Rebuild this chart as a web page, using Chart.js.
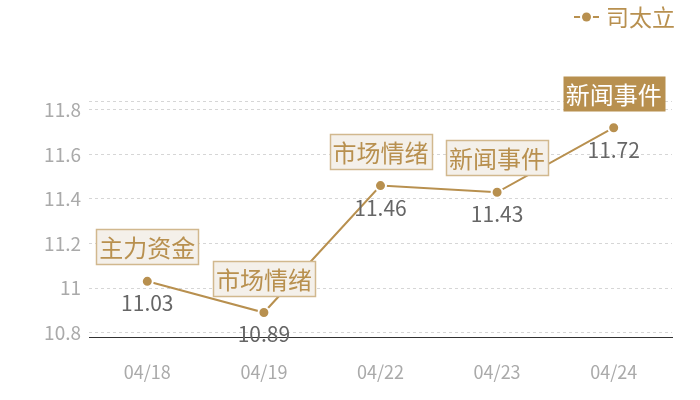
<!DOCTYPE html>
<html lang="zh">
<head>
  <meta charset="UTF-8" />
  <title>司太立</title>
  <script src="https://cdn.jsdelivr.net/npm/chart.js"></script>
  <style>
    html, body { margin: 0; padding: 0; background: #fff; }
    #wrap { width: 700px; height: 400px; }
  </style>
</head>
<body>
  <div id="wrap"><canvas id="grafico"></canvas></div>

  <script>
    // datos
    const fechas = ['04/18', '04/19', '04/22', '04/23', '04/24'];
    const precios = [11.03, 10.89, 11.46, 11.43, 11.72];
    const eventos = ['主力资金', '市场情绪', '市场情绪', '新闻事件', '新闻事件'];
    const etiquetasY = [10.8, 11, 11.2, 11.4, 11.6, 11.8];
    const ejeMin = 10.78;
    const ejeMax = 11.84;

    const dorado = '#b8904f';
    const fuente = '"Noto Sans CJK SC", "Noto Sans", sans-serif';

    // leyenda arriba a la derecha: linea con punto + nombre
    const leyenda = {
      id: 'leyenda',
      afterDraw(chart) {
        const ctx = chart.ctx;
        const nombre = chart.data.datasets[0].label;
        ctx.save();
        ctx.font = '23px ' + fuente;
        ctx.textAlign = 'right';
        ctx.textBaseline = 'middle';
        ctx.fillStyle = dorado;
        const derecha = 675;
        const yc = 17;
        ctx.fillText(nombre, derecha, yc);
        const x0 = derecha - ctx.measureText(nombre).width - 7;
        ctx.strokeStyle = dorado;
        ctx.lineWidth = 2;
        ctx.beginPath(); ctx.moveTo(x0 - 25, yc); ctx.lineTo(x0, yc); ctx.stroke();
        ctx.fillStyle = '#fff';
        ctx.beginPath(); ctx.arc(x0 - 12.5, yc, 6.5, 0, Math.PI * 2); ctx.fill();
        ctx.fillStyle = dorado;
        ctx.beginPath(); ctx.arc(x0 - 12.5, yc, 4.5, 0, Math.PI * 2); ctx.fill();
        ctx.restore();
      }
    };

    // cajas de eventos y valores
    const marcas = {
      id: 'marcas',
      afterDatasetsDraw(chart) {
        const ctx = chart.ctx;
        const meta = chart.getDatasetMeta(0);
        ctx.save();
        meta.data.forEach((p, i) => {
          // valor debajo del punto
          ctx.font = '21px ' + fuente;
          ctx.fillStyle = '#666';
          ctx.textAlign = 'center';
          ctx.textBaseline = 'middle';
          ctx.fillText(String(precios[i]), p.x, p.y + 22);

          // caja del evento
          ctx.font = '24px ' + fuente;
          const w = ctx.measureText(eventos[i]).width + 6;
          const h = 35;
          const x = Math.round(p.x - w / 2) + 0.5;
          const y = Math.round(p.y - 17 - h) + 0.5;
          const ultimo = i === meta.data.length - 1;
          ctx.fillStyle = ultimo ? dorado : '#f4f0ea';
          ctx.fillRect(x, y, w, h);
          if (!ultimo) {
            ctx.strokeStyle = '#d1b88e';
            ctx.lineWidth = 1.5;
            ctx.strokeRect(x, y, w, h);
          }
          ctx.fillStyle = ultimo ? '#fff' : dorado;
          ctx.fillText(eventos[i], p.x, y + h / 2 + 1);
        });
        ctx.restore();
      }
    };

    const ctx = document.getElementById('grafico').getContext('2d');
    new Chart(ctx, {
      type: 'line',
      data: {
        labels: fechas,
        datasets: [{
          label: '司太立',
          data: precios,
          borderColor: dorado,
          borderWidth: 2,
          backgroundColor: dorado,
          pointBackgroundColor: dorado,
          pointBorderColor: '#fff',
          pointBorderWidth: 2,
          pointRadius: 5.5,
          pointStyle: 'circle',
          tension: 0
        }]
      },
      options: {
        responsive: true,
        maintainAspectRatio: false,
        animation: false,
        layout: { padding: { top: 101, right: 28, left: 0, bottom: 0 } },
        plugins: {
          tooltip: { enabled: false },
          legend: { display: false }
        },
        scales: {
          x: {
            offset: true,
            grid: { display: false, drawTicks: false },
            border: { display: true, color: '#333', width: 1 },
            ticks: {
              color: '#aaa',
              padding: 24,
              font: { family: fuente, size: 18 }
            },
            afterFit(s) { s.height = 63; }
          },
          y: {
            min: ejeMin,
            max: ejeMax,
            grid: {
              color: '#d6d6d6',
              drawTicks: false
            },
            border: { display: false, dash: [3, 3] },
            afterBuildTicks(s) {
              s.ticks = [ejeMin, ...etiquetasY, ejeMax].map(v => ({ value: v }));
            },
            ticks: {
              color: '#aaa',
              padding: 8,
              font: { family: fuente, size: 19 },
              callback(v) {
                const hit = etiquetasY.find(t => Math.abs(t - v) < 1e-6);
                return hit === undefined ? '' : String(hit);
              }
            },
            afterFit(s) { s.width = 89; }
          }
        }
      },
      plugins: [marcas, leyenda]
    });
  </script>
</body>
</html>
